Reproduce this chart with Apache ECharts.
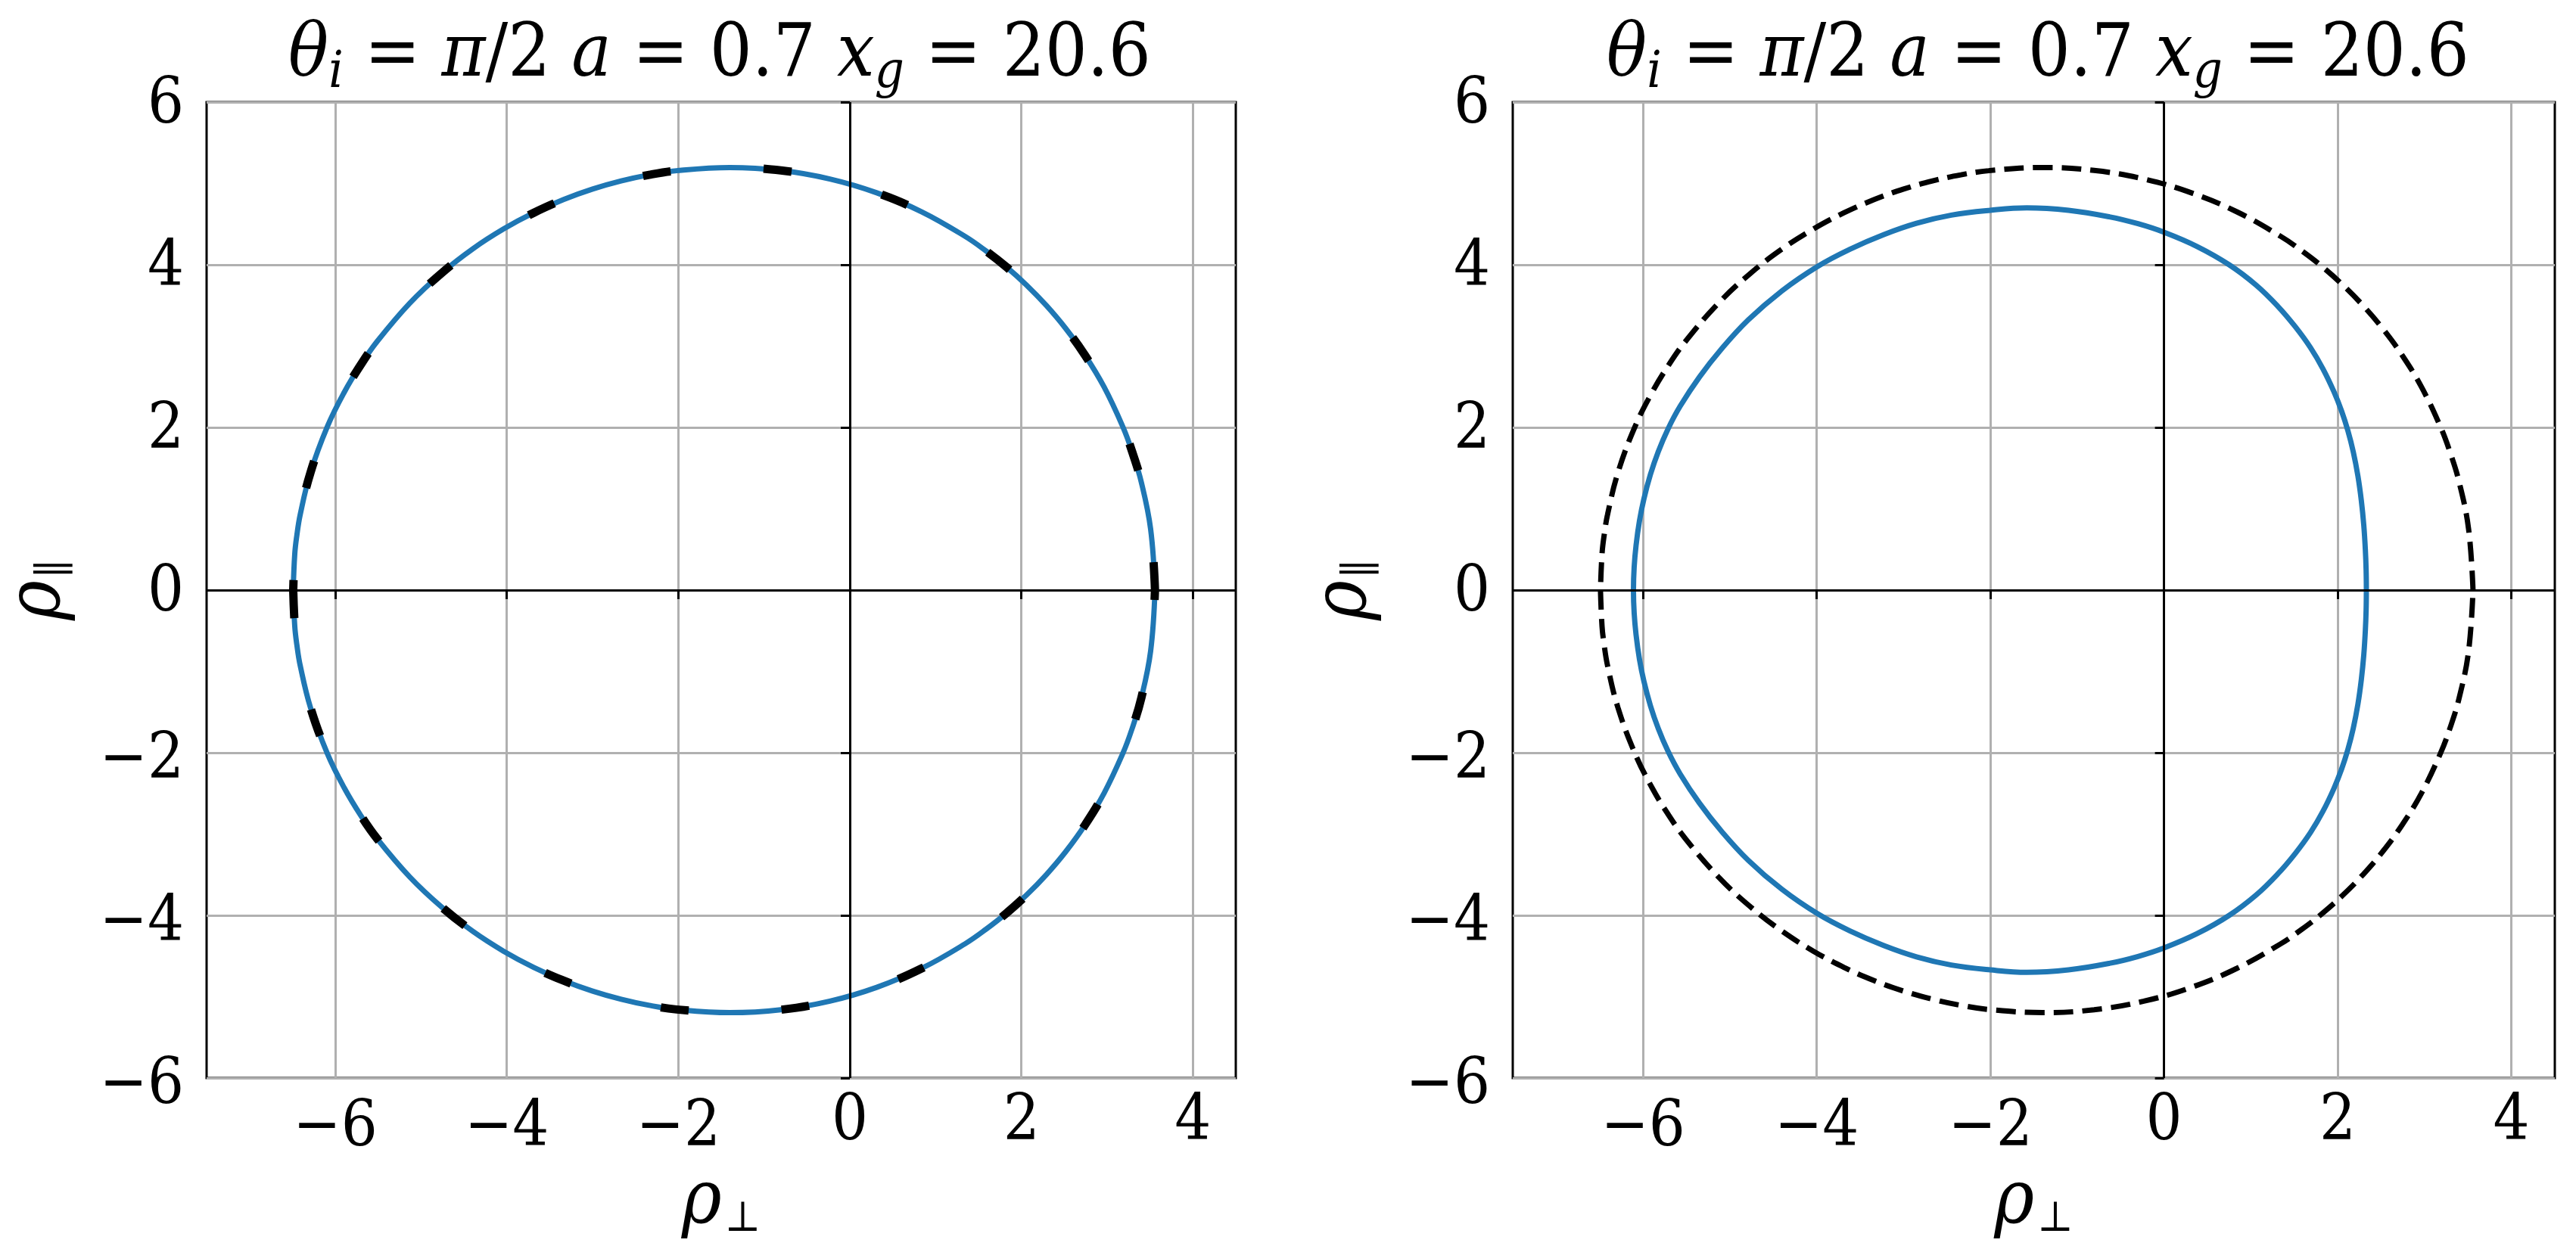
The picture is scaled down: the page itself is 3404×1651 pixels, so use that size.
<!DOCTYPE html>
<html>
<head>
<meta charset="utf-8">
<script src="https://cdn.jsdelivr.net/npm/echarts@6/dist/echarts.min.js"></script>
<style>
html,body{margin:0;padding:0;background:#ffffff;}
#chart{width:3404px;height:1651px;}
</style>
</head>
<body>
<div id="chart"></div>
<script>
// ---------- data ----------
const xTicks = [-6, -4, -2, 0, 2, 4];
const yTicks = [-6, -4, -2, 0, 2, 4, 6];
const titleText = '{i|θ}{s|i}{n| = }{i|π}{n|/2 }{i|a}{n| = 0.7 }{i|x}{s|g}{n| = 20.6}';
const xName = '{r|ρ}{s|⊥}';
const yName = '{r|ρ}{s|∥}';

// shadow contour, lower half (left -> right)
const shadowLower = [
  [-6.490, 0.000], [-6.472, -0.444], [-6.448, -0.670], [-6.408, -0.931], [-6.289, -1.444],
  [-6.092, -2.010], [-5.896, -2.430], [-5.703, -2.770], [-5.511, -3.058], [-5.132, -3.527],
  [-4.760, -3.897], [-4.395, -4.197], [-4.036, -4.441], [-3.684, -4.640], [-3.338, -4.802],
  [-2.999, -4.931], [-2.666, -5.031], [-2.340, -5.106], [-2.020, -5.157], [-1.400, -5.196],
  [-0.805, -5.160], [-0.233, -5.055], [0.314, -4.885], [0.839, -4.651], [1.343, -4.350],
  [1.587, -4.171], [1.827, -3.972], [2.061, -3.749], [2.292, -3.498], [2.519, -3.214],
  [2.743, -2.886], [2.964, -2.498], [3.182, -2.011], [3.290, -1.707], [3.399, -1.325],
  [3.507, -0.751], [3.558, 0.000]
];
// shadow contour, upper half (right -> left)
const shadowUpper = [
  [3.558, 0.000], [3.507, 0.751], [3.399, 1.325], [3.290, 1.707], [3.182, 2.011], [2.964, 2.498],
  [2.743, 2.886], [2.519, 3.214], [2.292, 3.498], [2.061, 3.749], [1.827, 3.972],
  [1.587, 4.171], [1.343, 4.350], [0.839, 4.651], [0.314, 4.885], [-0.233, 5.055],
  [-0.805, 5.160], [-1.400, 5.196], [-2.020, 5.157], [-2.340, 5.106], [-2.666, 5.031],
  [-2.999, 4.931], [-3.338, 4.802], [-3.684, 4.640], [-4.036, 4.441], [-4.395, 4.197],
  [-4.760, 3.897], [-5.132, 3.527], [-5.511, 3.058], [-5.703, 2.770], [-5.896, 2.430],
  [-6.092, 2.010], [-6.289, 1.444], [-6.408, 0.931], [-6.448, 0.670], [-6.472, 0.444],
  [-6.490, 0.000]
];

// deformed contour (right blue)
const deformedCurve = [
  [2.330, 0.00], [2.327, 0.25], [2.318, 0.50], [2.300, 0.80], [2.272, 1.10], [2.233, 1.40],
  [2.179, 1.70], [2.117, 1.96], [2.045, 2.20], [1.956, 2.44], [1.830, 2.72], [1.687, 2.98],
  [1.510, 3.24], [1.310, 3.49], [1.060, 3.75], [0.750, 4.00], [0.380, 4.225], [0.000, 4.40],
  [-0.300, 4.505], [-0.630, 4.59], [-1.100, 4.67], [-1.580, 4.70], [-2.000, 4.67], [-2.450, 4.61],
  [-2.850, 4.51], [-3.230, 4.37], [-3.620, 4.19], [-3.990, 3.98], [-4.400, 3.68], [-4.790, 3.32],
  [-5.100, 2.96], [-5.350, 2.62], [-5.573, 2.26], [-5.713, 1.98], [-5.825, 1.70], [-5.915, 1.42],
  [-5.990, 1.12], [-6.041, 0.85], [-6.080, 0.55], [-6.102, 0.28], [-6.110, 0.00],
  [-6.102, -0.28], [-6.080, -0.55], [-6.041, -0.85], [-5.990, -1.12], [-5.915, -1.42], [-5.825, -1.70],
  [-5.713, -1.98], [-5.573, -2.26], [-5.350, -2.62], [-5.100, -2.96], [-4.790, -3.32], [-4.400, -3.68],
  [-3.990, -3.98], [-3.620, -4.19], [-3.230, -4.37], [-2.850, -4.51], [-2.450, -4.61], [-2.000, -4.67],
  [-1.580, -4.70], [-1.100, -4.67], [-0.630, -4.59], [-0.300, -4.505], [0.000, -4.40], [0.380, -4.225],
  [0.750, -4.00], [1.060, -3.75], [1.310, -3.49], [1.510, -3.24], [1.687, -2.98], [1.830, -2.72],
  [1.956, -2.44], [2.045, -2.20], [2.117, -1.96], [2.179, -1.70], [2.233, -1.40], [2.272, -1.10],
  [2.300, -0.80], [2.318, -0.50], [2.327, -0.25], [2.330, 0.00]
];

// ---------- styling helpers ----------
const FONT = 'DejaVu Serif Condensed';
const BLUE = '#1f77b4';
const minus = v => (v < 0 ? '\u2212' + Math.abs(v) : String(v));
const fmtX = v => (v < 0 ? '{m|' + minus(v) + '}' : '{p|' + minus(v) + '}');
const fmtY = v => (v < 0 ? '{m|' + minus(v) + '}' : '{p|' + minus(v) + '}');

const tickFont = {fontFamily: FONT, fontSize: 84, color: '#000'};
const richX = {m: Object.assign({padding: [8, 0, 0, 0]}, tickFont), p: Object.assign({padding: [0, 0, 0, 0]}, tickFont)};
const richY = {m: Object.assign({padding: [22, 0, 0, 0]}, tickFont), p: Object.assign({padding: [10, 0, 0, 0]}, tickFont)};

const richName = {
  r: {fontFamily: FONT, fontStyle: 'italic', fontSize: 100, color: '#000', lineHeight: 100},
  s: {fontFamily: FONT, fontSize: 56, color: '#000', padding: [46, 0, 0, 4], lineHeight: 100}
};
const richTitle = {
  n: {fontFamily: FONT, fontSize: 98, color: '#000', lineHeight: 104},
  i: {fontFamily: FONT, fontStyle: 'italic', fontSize: 98, color: '#000', lineHeight: 104},
  s: {fontFamily: FONT, fontStyle: 'italic', fontSize: 68, color: '#000', padding: [44, 0, 0, 0], lineHeight: 104}
};

function makeX(gridIndex) {
  return {
    type: 'value', gridIndex, min: -7.5, max: 4.5,
    axisLine: {show: false},
    axisTick: {show: true, inside: false, length: 12, lineStyle: {color: '#000', width: 3}, customValues: xTicks},
    axisLabel: Object.assign({show: true, customValues: xTicks, formatter: fmtX, margin: 17, rich: richX}, tickFont),
    splitLine: {show: true, lineStyle: {color: '#b0b0b0', width: 3}},
    name: xName, nameLocation: 'middle', nameGap: 94,
    nameTextStyle: {fontFamily: FONT, fontSize: 100, color: '#000', rich: richName}
  };
}
function makeY(gridIndex) {
  return {
    type: 'value', gridIndex, min: -6, max: 6, interval: 2,
    axisLine: {show: false},
    axisTick: {show: true, inside: false, length: 12, lineStyle: {color: '#000', width: 3}},
    axisLabel: Object.assign({show: true, formatter: fmtY, margin: 30, rich: richY}, tickFont),
    splitLine: {show: true, lineStyle: {color: '#b0b0b0', width: 3}},
    name: yName, nameLocation: 'middle', nameGap: 171, nameRotate: 90,
    nameTextStyle: {fontFamily: FONT, fontSize: 100, color: '#000', rich: richName}
  };
}
function zeroLines(i) {
  return {
    type: 'line', xAxisIndex: i, yAxisIndex: i, data: [], silent: true, z: 2,
    markLine: {symbol: 'none', silent: true, animation: false, label: {show: false},
      lineStyle: {color: '#000', width: 3, type: 'solid'},
      data: [{xAxis: 0}, {yAxis: 0}]}
  };
}
function curve(i, data, z, lineStyle) {
  return {type: 'line', xAxisIndex: i, yAxisIndex: i, data, showSymbol: false, symbol: 'none',
    smooth: 0.4, clip: true, z, lineStyle};
}

const leftDash = {color: '#000', width: 11, type: [37, 123], cap: 'butt'};
const rightDash = {color: '#000', width: 7, type: [26, 12], cap: 'butt'};
const blueStyle = {color: BLUE, width: 7};

const chart = echarts.init(document.getElementById('chart'), null, {renderer: 'canvas'});
chart.setOption({
  animation: false,
  backgroundColor: '#ffffff',
  textStyle: {fontFamily: FONT},
  title: [
    {text: titleText, left: 946, top: 18, textAlign: 'center',
     textStyle: {fontFamily: FONT, fontSize: 98, fontWeight: 'normal', color: '#000', lineHeight: 104, rich: richTitle}},
    {text: titleText, left: 2688, top: 18, textAlign: 'center',
     textStyle: {fontFamily: FONT, fontSize: 98, fontWeight: 'normal', color: '#000', lineHeight: 104, rich: richTitle}}
  ],
  grid: [
    {left: 260, top: 135, width: 1373, height: 1290, show: true, borderColor: '#000', borderWidth: 3, backgroundColor: 'transparent'},
    {left: 1999, top: 135, width: 1377, height: 1290, show: true, borderColor: '#000', borderWidth: 3, backgroundColor: 'transparent'}
  ],
  xAxis: [makeX(0), makeX(1)],
  yAxis: [makeY(0), makeY(1)],
  series: [
    zeroLines(0),
    curve(0, shadowLower, 3, blueStyle),
    curve(0, shadowUpper, 3, blueStyle),
    curve(0, shadowLower, 4, leftDash),
    curve(0, shadowUpper, 4, leftDash),
    zeroLines(1),
    curve(1, shadowLower, 3, rightDash),
    curve(1, shadowUpper, 3, rightDash),
    curve(1, deformedCurve, 4, blueStyle)
  ]
});
</script>
</body>
</html>
